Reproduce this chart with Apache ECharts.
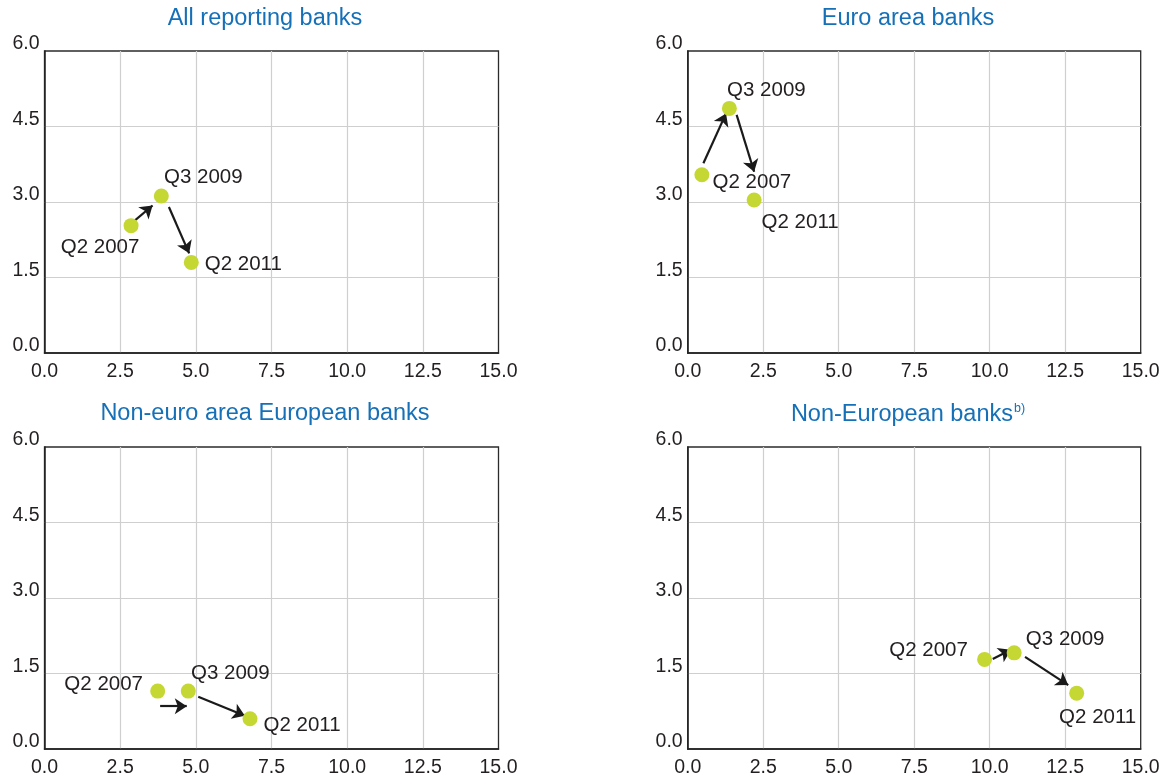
<!DOCTYPE html>
<html>
<head>
<meta charset="utf-8">
<script src="https://cdn.jsdelivr.net/npm/echarts@6/dist/echarts.min.js"></script>
<style>
  html, body { margin: 0; padding: 0; background: #fff; }
  #chart { width: 1171px; height: 780px; }
</style>
</head>
<body>
<div id="chart"></div>
<script>
// periods shown on every panel
const periods = ['Q2 2007', 'Q3 2009', 'Q2 2011'];
const titles = ['All reporting banks', 'Euro area banks', 'Non-euro area European banks', 'Non-European banks'];
const xTicks = [0, 2.5, 5, 7.5, 10, 12.5, 15];
const yTicks = [0, 1.5, 3, 4.5, 6];

// values
const allX = [2.86, 3.86, 4.85];
const allY = [2.53, 3.12, 1.80];
const euroX = [0.47, 1.38, 2.20];
const euroY = [3.54, 4.86, 3.04];
const nonEuroX = [3.74, 4.75, 6.79];
const nonEuroY = [1.15, 1.15, 0.60];
const nonEuropeanX = [9.83, 10.81, 12.88];
const nonEuropeanY = [1.78, 1.91, 1.11];

// arrows (start, end) in data units
const allArrows = [[[2.90, 2.59], [3.57, 2.93]], [[4.11, 2.90], [4.78, 1.98]]];
const euroArrows = [[[0.52, 3.77], [1.27, 4.76]], [[1.62, 4.73], [2.20, 3.60]]];
const nonEuroArrows = [[[3.82, 0.85], [4.70, 0.85]], [[5.08, 1.04], [6.62, 0.66]]];
const nonEuropeanArrows = [[[10.10, 1.79], [10.70, 1.97]], [[11.17, 1.83], [12.60, 1.27]]];

// label placement, px offsets from the marker
const labelOffsets = [
    [[-31, 22], [42, -18.5], [52, 2]],
    [[50, 7.5], [37, -18], [46, 22]],
    [[-54, -7], [42, -18], [52, 7]],
    [[-56, -9], [51, -13.5], [21, 24]]
];

const panels = [
    { xs: allX, ys: allY, arrows: allArrows },
    { xs: euroX, ys: euroY, arrows: euroArrows },
    { xs: nonEuroX, ys: nonEuroY, arrows: nonEuroArrows },
    { xs: nonEuropeanX, ys: nonEuropeanY, arrows: nonEuropeanArrows }
];

const font = '"Liberation Sans", Arial, Helvetica, sans-serif';
const textColor = '#231f20';
const titleColor = '#1570b8';
const dotColor = '#c5d733';

const grids = [
    { left: 44.5, top: 51, right: 672.5, bottom: 427 },
    { left: 687.7, top: 51, right: 30.3, bottom: 427 },
    { left: 44.5, top: 447, right: 672.5, bottom: 31 },
    { left: 687.7, top: 447, right: 30.3, bottom: 31 }
];
const titlePos = [[265, 7], [908, 7], [265, 402], [908, 402]];

var chart = echarts.init(document.getElementById('chart'));

var option = {
    backgroundColor: '#fff',
    animation: false,
    title: titles.map(function (t, i) {
        return {
            text: i == 3 ? '{t|' + t + '}{s|b)}' : t,
            left: titlePos[i][0],
            top: titlePos[i][1],
            textAlign: 'center',
            padding: 0,
            textStyle: {
                fontFamily: font,
                fontSize: 23.5,
                fontWeight: 'normal',
                color: titleColor,
                rich: {
                    t: { fontFamily: font, fontSize: 23.5, color: titleColor },
                    s: { fontFamily: font, fontSize: 12.5, color: titleColor, padding: [0, 0, 12, 1] }
                }
            }
        };
    }),
    grid: grids.map(function (g) {
        return Object.assign({ show: true, borderColor: '#2b2b2b', borderWidth: 1.3, containLabel: false }, g);
    }),
    xAxis: grids.map(function (g, i) {
        return {
            type: 'value',
            gridIndex: i,
            min: xTicks[0],
            max: xTicks[xTicks.length - 1],
            interval: xTicks[1] - xTicks[0],
            axisLine: { show: true, onZero: false, lineStyle: { color: '#222', width: 1.5 } },
            axisTick: { show: false },
            splitLine: { show: true, showMinLine: false, showMaxLine: false, lineStyle: { color: '#cfcfcf', width: 1.2 } },
            axisLabel: {
                margin: 9,
                fontFamily: font,
                fontSize: 19.5,
                color: textColor,
                formatter: function (v) { return v.toFixed(1); }
            }
        };
    }),
    yAxis: grids.map(function (g, i) {
        return {
            type: 'value',
            gridIndex: i,
            min: yTicks[0],
            max: yTicks[yTicks.length - 1],
            interval: yTicks[1] - yTicks[0],
            axisLine: { show: true, onZero: false, lineStyle: { color: '#222', width: 1.5 } },
            axisTick: { show: false },
            splitLine: { show: true, showMinLine: false, showMaxLine: false, lineStyle: { color: '#cfcfcf', width: 1.2 } },
            axisLabel: {
                margin: 5,
                fontFamily: font,
                fontSize: 19.5,
                color: textColor,
                verticalAlign: 'bottom',
                lineHeight: 14,
                formatter: function (v) { return v.toFixed(1); }
            }
        };
    }),
    series: []
};

panels.forEach(function (p, i) {
    option.series.push({
        type: 'lines',
        coordinateSystem: 'cartesian2d',
        xAxisIndex: i,
        yAxisIndex: i,
        symbol: ['none', 'arrow'],
        symbolSize: 12,
        lineStyle: { color: '#1a1a1a', width: 2.2, curveness: 0, opacity: 1 },
        data: p.arrows.map(function (a) { return { coords: a }; }),
        z: 3
    });
    option.series.push({
        type: 'scatter',
        xAxisIndex: i,
        yAxisIndex: i,
        symbol: 'circle',
        symbolSize: 15,
        itemStyle: { color: dotColor, opacity: 1 },
        label: {
            show: true,
            position: 'inside',
            align: 'center',
            verticalAlign: 'middle',
            fontFamily: font,
            fontSize: 20.5,
            color: textColor,
            formatter: function (d) { return d.name; }
        },
        data: p.xs.map(function (x, k) {
            return {
                name: periods[k],
                value: [x, p.ys[k]],
                label: { offset: labelOffsets[i][k] }
            };
        }),
        z: 4
    });
});

chart.setOption(option);
</script>
</body>
</html>
